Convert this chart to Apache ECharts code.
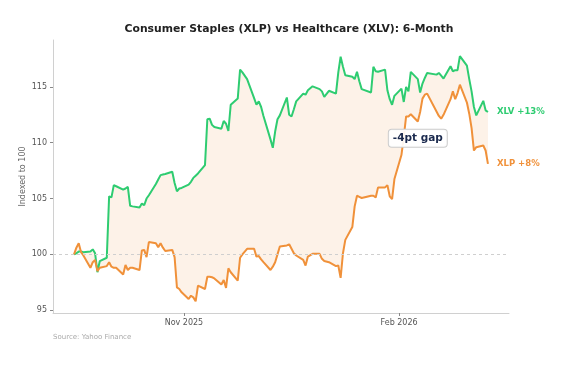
<!DOCTYPE html>
<html>
<head>
<meta charset="utf-8">
<script src="https://cdn.jsdelivr.net/npm/echarts@6/dist/echarts.min.js"></script>
<style>
html,body{margin:0;padding:0;background:#fff;}
#chart{width:578px;height:365px;}
</style>
</head>
<body>
<div id="chart"></div>
<script>
// ---- data ----
const dates = [
'2025-09-15','2025-09-16','2025-09-17','2025-09-18','2025-09-19',
'2025-09-22','2025-09-23','2025-09-24','2025-09-25','2025-09-26',
'2025-09-29','2025-09-30','2025-10-01','2025-10-02','2025-10-03',
'2025-10-06','2025-10-07','2025-10-08','2025-10-09','2025-10-10',
'2025-10-13','2025-10-14','2025-10-15','2025-10-16','2025-10-17',
'2025-10-20','2025-10-21','2025-10-22','2025-10-23','2025-10-24',
'2025-10-27','2025-10-28','2025-10-29','2025-10-30','2025-10-31',
'2025-11-03','2025-11-04','2025-11-05','2025-11-06','2025-11-07',
'2025-11-10','2025-11-11','2025-11-12','2025-11-13','2025-11-14',
'2025-11-17','2025-11-18','2025-11-19','2025-11-20','2025-11-21',
'2025-11-24','2025-11-25','2025-11-26','2025-11-28',
'2025-12-01','2025-12-02','2025-12-03','2025-12-04','2025-12-05',
'2025-12-08','2025-12-09','2025-12-10','2025-12-11','2025-12-12',
'2025-12-15','2025-12-16','2025-12-17','2025-12-18','2025-12-19',
'2025-12-22','2025-12-23','2025-12-24','2025-12-26',
'2025-12-29','2025-12-30','2025-12-31','2026-01-02',
'2026-01-05','2026-01-06','2026-01-07','2026-01-08','2026-01-09',
'2026-01-12','2026-01-13','2026-01-14','2026-01-15','2026-01-16',
'2026-01-20','2026-01-21','2026-01-22','2026-01-23',
'2026-01-26','2026-01-27','2026-01-28','2026-01-29','2026-01-30',
'2026-02-02','2026-02-03','2026-02-04','2026-02-05','2026-02-06',
'2026-02-09','2026-02-10','2026-02-11','2026-02-12','2026-02-13',
'2026-02-17','2026-02-18','2026-02-19','2026-02-20',
'2026-02-23','2026-02-24','2026-02-25','2026-02-26','2026-02-27',
'2026-03-02','2026-03-03','2026-03-04','2026-03-05','2026-03-06',
'2026-03-09','2026-03-10','2026-03-11'
];

const xlv = [
100.0,100.1,100.25,100.25,100.2,
100.25,100.45,100.1,98.4,99.4,
99.7,105.2,105.1,106.2,106.1,
105.8,105.9,106.05,104.35,104.3,
104.2,104.55,104.4,105.0,105.3,
106.3,106.7,107.1,107.15,107.2,
107.4,106.4,105.65,105.9,105.95,
106.25,106.5,106.85,107.05,107.25,
108.0,112.1,112.15,111.6,111.4,
111.25,111.95,111.7,111.05,113.4,
113.95,116.55,116.3,115.7,
114.0,113.4,113.7,113.2,112.4,
110.3,109.55,111.0,112.1,112.45,
114.05,112.5,112.35,113.0,113.7,
114.4,114.3,114.7,115.05,
114.8,114.6,114.1,114.65,
114.4,116.3,117.7,116.8,116.05,
115.9,115.7,116.35,115.5,114.8,
114.5,116.8,116.4,116.35,
116.55,114.7,113.9,113.4,114.2,
114.85,113.65,115.0,114.6,116.35,
115.7,114.5,115.3,115.8,116.25,
116.1,116.25,116.0,115.75,
116.85,116.4,116.5,116.5,117.75,
116.9,115.7,114.6,113.2,112.45,
113.75,112.9,112.75
];

const xlp = [
100.0,100.6,101.0,100.2,99.9,
98.8,99.3,99.5,98.5,98.8,
98.95,99.3,98.9,98.8,98.8,
98.2,99.05,98.6,98.8,98.8,
98.6,100.35,100.4,99.75,101.1,
101.0,100.65,101.0,100.6,100.3,
100.4,99.75,97.05,96.9,96.6,
96.0,96.3,96.15,95.8,97.2,
96.9,98.0,98.0,97.95,97.85,
97.3,97.7,97.0,98.75,98.4,
97.65,99.7,100.0,100.5,
100.5,99.8,99.85,99.55,99.3,
98.6,98.9,99.3,100.0,100.7,
100.8,100.9,100.5,100.1,99.9,
99.5,99.0,99.8,100.05,
100.05,99.6,99.4,99.3,
98.95,99.0,97.9,100.1,101.3,
102.45,104.3,105.25,105.15,105.05,
105.25,105.25,105.1,106.0,
106.0,106.2,105.2,104.95,106.75,
108.9,110.5,112.35,112.35,112.55,
111.9,112.75,113.95,114.3,114.4,
112.8,112.4,112.15,112.5,
113.9,114.6,113.9,114.45,115.2,
113.6,112.6,111.3,109.3,109.6,
109.75,109.3,108.1
];

const yTicks = [95, 100, 105, 110, 115];
const xTickDates = ['2025-11-01', '2026-02-01'];
const xTickLabels = ['Nov 2025', 'Feb 2026'];
const titleText = 'Consumer Staples (XLP) vs Healthcare (XLV): 6-Month';
const yAxisName = 'Indexed to 100';
const sourceText = 'Source: Yahoo Finance';
const xlvLabel = 'XLV +13%';
const xlpLabel = 'XLP +8%';
const gapLabel = '-4pt gap';
const gapAt = ['2026-02-09', 110.4];

// ---- build ----
function ts(s){ const p = s.split('-').map(Number); return Date.UTC(p[0], p[1]-1, p[2]); }
const xTickTs = xTickDates.map(ts);
const pair = arr => arr.map((v,i)=>[ts(dates[i]), v]);

const GREEN = '#2ecc71', ORANGE = '#f0913a', FILL = '#fdf2e8';
const FONT = 'DejaVu Sans';

const chart = echarts.init(document.getElementById('chart'), null, {renderer:'canvas'});
chart.setOption({
  animation:false,
  backgroundColor:'#ffffff',
  textStyle:{fontFamily:FONT},
  title:{
    text:titleText, left:'center', top:19,
    textStyle:{fontFamily:FONT, fontSize:10.8, fontWeight:'bold', color:'#222'}
  },
  grid:{left:53, right:69, top:40, bottom:52, containLabel:false},
  xAxis:{
    type:'value',
    min:ts('2025-09-06'), max:ts('2026-03-20'),
    axisLine:{show:true, onZero:false, lineStyle:{color:'#d0d0d0', width:1}},
    axisTick:{show:true, customValues:xTickTs, length:3, lineStyle:{color:'#888'}},
    axisLabel:{
      customValues:xTickTs, color:'#555', fontSize:8, fontFamily:FONT, margin:6,
      formatter:function(v){ const i = xTickTs.indexOf(v); return i>=0 ? xTickLabels[i] : ''; }
    },
    splitLine:{show:false}
  },
  yAxis:{
    type:'value', min:94.75, max:119.2,
    name:yAxisName, nameLocation:'middle', nameGap:26, nameMoveOverlap:false,
    nameTextStyle:{color:'#666', fontSize:8, fontFamily:FONT},
    axisLine:{show:true, lineStyle:{color:'#d0d0d0', width:1}},
    axisTick:{show:true, customValues:yTicks, length:3, lineStyle:{color:'#888'}},
    axisLabel:{customValues:yTicks, color:'#555', fontSize:8, fontFamily:FONT, margin:6},
    splitLine:{show:false}
  },
  series:[
    {
      name:'gap', type:'custom', silent:true, z:1,
      data:[[0]],
      renderItem:function(params, api){
        const pts = [];
        for (let i = 0; i < dates.length; i++) pts.push(api.coord([ts(dates[i]), xlv[i]]));
        for (let i = dates.length - 1; i >= 0; i--) pts.push(api.coord([ts(dates[i]), xlp[i]]));
        return {type:'polygon', shape:{points:pts}, style:{fill:FILL}};
      }
    },
    {
      name:'XLV', type:'line', data:pair(xlv), symbol:'none',
      lineStyle:{color:GREEN, width:2}, itemStyle:{color:GREEN}, z:3,
      endLabel:{show:true, formatter:xlvLabel, color:GREEN, fontWeight:'bold', fontSize:8.5, fontFamily:FONT, distance:9},
      markLine:{
        silent:true, symbol:'none', label:{show:false},
        lineStyle:{color:'#cfcfcf', type:[3,3], width:1},
        data:[{yAxis:100}]
      }
    },
    {
      name:'XLP', type:'line', data:pair(xlp), symbol:'none',
      lineStyle:{color:ORANGE, width:2}, itemStyle:{color:ORANGE}, z:4,
      endLabel:{show:true, formatter:xlpLabel, color:ORANGE, fontWeight:'bold', fontSize:8.5, fontFamily:FONT, distance:9}
    }
  ]
});

const gp = chart.convertToPixel({gridIndex:0}, [ts(gapAt[0]), gapAt[1]]);
chart.setOption({
  graphic:[
    {
      type:'text', x:gp[0], y:gp[1], z:100,
      style:{
        text:gapLabel, fill:'#1b2a4e', font:'bold 10.5px "DejaVu Sans"',
        align:'center', verticalAlign:'middle',
        backgroundColor:'rgba(255,255,255,0.92)', borderColor:'#cccccc', borderWidth:1,
        borderRadius:3, padding:[3,4,3,4]
      }
    },
    {
      type:'text', left:53, top:334, z:100,
      style:{text:sourceText, fill:'#aaaaaa', font:'7px "DejaVu Sans"'}
    }
  ]
});
</script>
</body>
</html>
